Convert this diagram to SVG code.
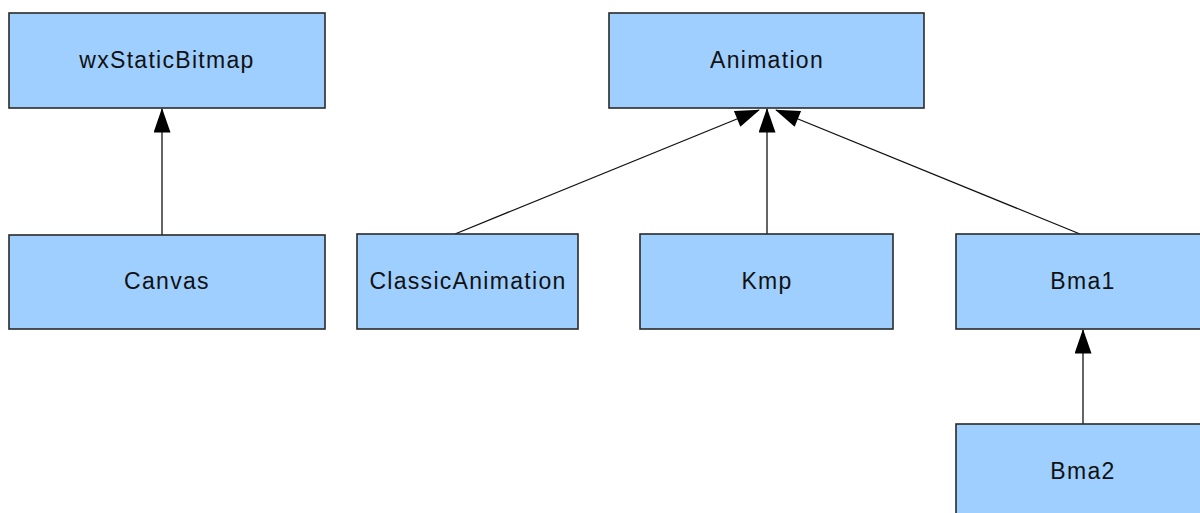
<svg xmlns="http://www.w3.org/2000/svg" width="1200" height="513" viewBox="0 0 1200 513">
<defs>
<style>
.box{fill:#9fcfff;stroke:#2a2a2a;stroke-width:1.6}
.lbl{font-family:"Liberation Sans",Arial,sans-serif;font-size:23px;letter-spacing:1.3px;fill:#111;text-anchor:middle}
.edge{stroke:#111;stroke-width:1.3;fill:none;marker-end:url(#tri)}
</style>
<marker id="tri" viewBox="0 0 26 18" refX="25" refY="9" markerWidth="26" markerHeight="17" markerUnits="userSpaceOnUse" orient="auto">
<path d="M0,0 L26,9 L0,18 Z" fill="#000"/>
</marker>
</defs>
<rect width="1200" height="513" fill="#fff"/>
<g id="connectors">
<line class="edge" x1="162" y1="235" x2="162" y2="109"/>
<line class="edge" x1="455" y1="234" x2="759" y2="110"/>
<line class="edge" x1="767" y1="234" x2="767" y2="109"/>
<line class="edge" x1="1080" y1="234" x2="776" y2="110"/>
<line class="edge" x1="1083" y1="424" x2="1083" y2="330"/>
</g>
<g id="wxStaticBitmap"><rect class="box" x="9" y="13" width="316" height="95"/><text class="lbl" x="167" y="68">wxStaticBitmap</text></g>
<g id="Animation"><rect class="box" x="609" y="13" width="315" height="95"/><text class="lbl" x="767" y="68">Animation</text></g>
<g id="Canvas"><rect class="box" x="9" y="235" width="316" height="94"/><text class="lbl" x="167" y="289">Canvas</text></g>
<g id="ClassicAnimation"><rect class="box" x="357" y="234" width="221" height="95"/><text class="lbl" x="468" y="289">ClassicAnimation</text></g>
<g id="Kmp"><rect class="box" x="640" y="234" width="253" height="95"/><text class="lbl" x="767" y="289">Kmp</text></g>
<g id="Bma1"><rect class="box" x="956" y="234" width="260" height="95"/><text class="lbl" x="1083" y="289">Bma1</text></g>
<g id="Bma2"><rect class="box" x="956" y="424" width="260" height="110"/><text class="lbl" x="1083" y="479">Bma2</text></g>
</svg>
